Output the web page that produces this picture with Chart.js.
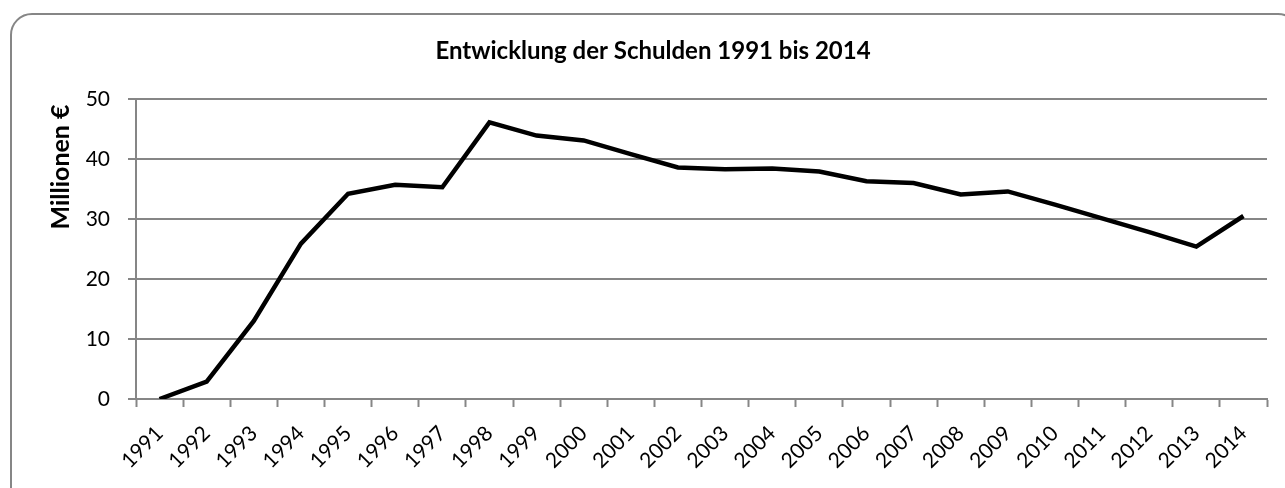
<!DOCTYPE html>
<html lang="de">
<head>
<meta charset="utf-8">
<title>Entwicklung der Schulden 1991 bis 2014</title>
<script src="https://cdn.jsdelivr.net/npm/chart.js@4.4.1/dist/chart.umd.min.js"></script>
<style>
    html, body { margin: 0; padding: 0; background: #ffffff; overflow: hidden; }
    #wrap { position: relative; width: 1285px; height: 488px; overflow: hidden; }
    #frame {
        position: absolute; left: 10px; top: 13px; width: 1290px; height: 500px;
        border: 2px solid #868686; border-radius: 22px; box-sizing: border-box;
    }
    #schuldenChart { position: absolute; left: 0; top: 0; }
</style>
</head>
<body>
<div id="wrap">
    <div id="frame"></div>
    <canvas id="schuldenChart" width="1285" height="488"></canvas>
</div>
<script>
const TITEL = 'Entwicklung der Schulden 1991 bis 2014';
const Y_TITEL = 'Millionen €';

const jahre = ['1991', '1992', '1993', '1994', '1995', '1996', '1997', '1998', '1999', '2000', '2001', '2002',
    '2003', '2004', '2005', '2006', '2007', '2008', '2009', '2010', '2011', '2012', '2013', '2014'];

// Schulden in Millionen €
const schulden = [0, 2.9, 13.0, 25.9, 34.2, 35.7, 35.3, 46.1, 43.9, 43.1, 40.8, 38.6,
    38.3, 38.4, 37.9, 36.3, 36.0, 34.1, 34.6, 32.4, 30.1, 27.8, 25.4, 30.5];

const yTicks = [0, 10, 20, 30, 40, 50];

const FONT = 'Lato, "Open Sans", sans-serif';
const GRAU = '#868686';

// Titel und Achsentitel wie in der Excel-Vorlage
const textPlugin = {
    id: 'excelTexte',
    afterDraw(chart) {
        const ctx = chart.ctx;
        ctx.save();
        ctx.fillStyle = '#000000';
        ctx.textAlign = 'center';
        ctx.textBaseline = 'middle';
        ctx.font = 'bold 24px ' + FONT;
        ctx.fillText(TITEL, 653, 51);

        ctx.font = 'bold 25px ' + FONT;
        ctx.translate(61, 167);
        ctx.rotate(-Math.PI / 2);
        ctx.fillText(Y_TITEL, 0, 0);
        ctx.restore();
    }
};

const ctx = document.getElementById('schuldenChart').getContext('2d');

new Chart(ctx, {
    type: 'line',
    data: {
        labels: jahre,
        datasets: [{
            label: 'Schulden',
            data: schulden,
            borderColor: '#000000',
            borderWidth: 4.5,
            pointRadius: 0,
            tension: 0,
            fill: false
        }]
    },
    options: {
        responsive: false,
        animation: false,
        layout: {
            padding: { left: 0, top: 99, right: 18, bottom: 9 }
        },
        plugins: {
            legend: { display: false },
            title: { display: false },
            tooltip: { enabled: false }
        },
        scales: {
            x: {
                offset: true,
                grid: {
                    offset: true,
                    drawOnChartArea: false,
                    drawTicks: true,
                    tickLength: 8,
                    tickWidth: 2,
                    tickColor: GRAU
                },
                border: { display: true, color: GRAU, width: 2 },
                ticks: {
                    color: '#000000',
                    font: { family: FONT, size: 21 },
                    minRotation: 45,
                    maxRotation: 45,
                    autoSkip: false,
                    padding: 14
                },
                afterFit: (scale) => { scale.height = 80; }
            },
            y: {
                min: 0,
                max: 50,
                afterBuildTicks: (scale) => {
                    scale.ticks = yTicks.map((v) => ({ value: v }));
                },
                grid: {
                    color: GRAU,
                    lineWidth: 2,
                    drawTicks: true,
                    tickLength: 8,
                    tickColor: GRAU
                },
                border: { display: true, color: GRAU, width: 2 },
                ticks: {
                    color: '#000000',
                    font: { family: FONT, size: 21 },
                    padding: 18
                },
                afterFit: (scale) => { scale.width = 136; }
            }
        }
    },
    plugins: [textPlugin]
});
</script>
</body>
</html>
